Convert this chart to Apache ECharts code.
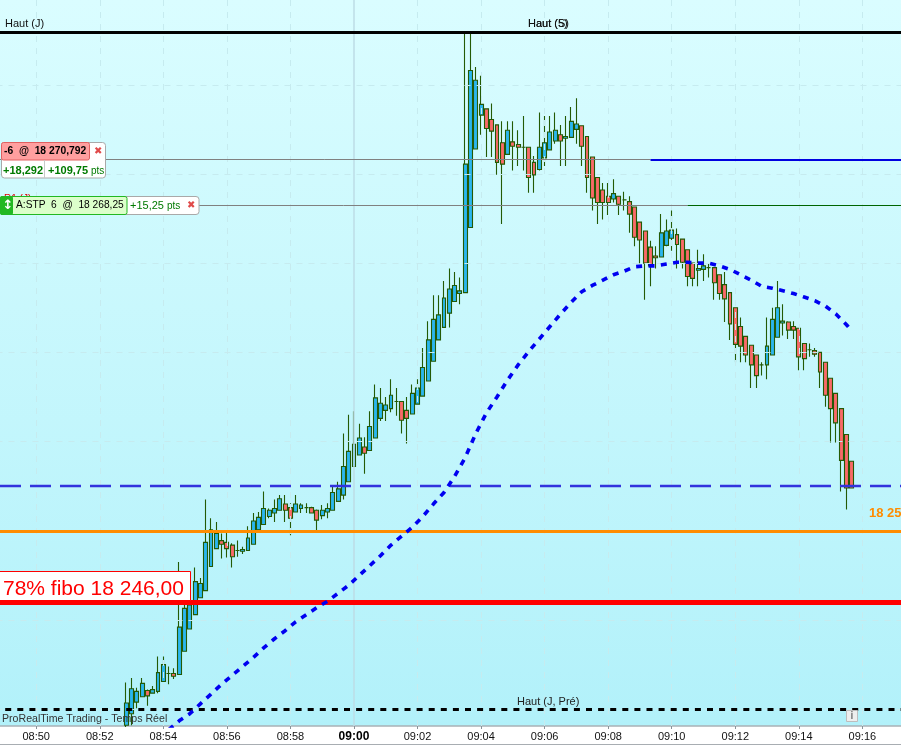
<!DOCTYPE html>
<html><head><meta charset="utf-8">
<style>html,body{margin:0;padding:0;background:#fff;overflow:hidden}#c{width:901px;height:745px}</style>
<script src="https://cdn.jsdelivr.net/npm/echarts@6/dist/echarts.min.js"></script>
</head><body><div id="c"></div>
<script>
const tickLabels = ['08:50','08:52','08:54','08:56','08:58','09:00','09:02','09:04','09:06','09:08','09:10','09:12','09:14','09:16'];
const firstBarTime = '08:52:50';
const opens = [18239.1,18239.75,18240.4,18240.7,18241.05,18240.9,18241,18241.55,18242,18242,
18241.95,18243.25,18244.5,18245.3,18246.25,18246.65,18248,18249,18249.45,18249.35,
18249.2,18248.9,18248.85,18248.9,18249.25,18250.05,18250.35,18250.8,18251,18251.15,
18251.5,18251.3,18251.05,18251.25,18251.3,18251.3,18251.15,18250.85,18251.05,18251.15,
18251.65,18252,18252.75,18253.6,18254.25,18254.7,18254.5,18255.2,18256.3,18256.75,
18256.85,18257.25,18257.25,18256.75,18256.55,18257.1,18257.55,18258.4,18259.5,18260.7,
18261.4,18262.2,18262.85,18263.3,18263.35,18267,18271.4,18273.3,18273.65,18273.05,
18272.75,18271.75,18271.1,18271.8,18271.65,18271.5,18271.5,18270.65,18270.25,18270.9,
18271.35,18271.85,18272.2,18272,18272.05,18272.5,18272.7,18272.1,18270.95,18269.8,
18269.1,18268.75,18268.6,18268.75,18268.55,18268.45,18268.15,18267.3,18266.8,18265.9,
18265.4,18265.35,18266,18266.4,18266.6,18266.35,18265.75,18265,18264.6,18264.65,
18264.75,18264.75,18264.35,18263.8,18263.35,18262.5,18261.45,18260.9,18260.4,18259.85,
18259.3,18259.3,18259.85,18260.85,18261.65,18261.7,18261.45,18261.35,18260.5,18260.15,
18260.1,18260,18259.45,18258.55,18257.7,18256.85,18255.4,18253.9];
const closes = [18240.35,18241.15,18241,18241.45,18240.75,18241.1,18242.05,18242.5,18242,18241.85,
18244.6,18245.65,18245.85,18247.15,18247.05,18249.35,18250.05,18249.85,18249.25,18249,
18248.55,18248.9,18248.95,18249.6,18250.55,18250.75,18251.25,18251.15,18251.25,18251.8,
18251.15,18250.7,18251.5,18251.45,18251.3,18251,18250.6,18251.15,18251.25,18252.15,
18252.35,18253.6,18254.45,18254.85,18255.2,18254.35,18255.85,18257.45,18257.15,18257.05,
18257.6,18257.25,18256.2,18256.3,18257.7,18258,18259.15,18260.7,18261.85,18262.1,
18263.05,18263.55,18263.75,18263.45,18270.55,18275.8,18275.25,18273.9,18272.55,18272.4,
18270.65,18270.55,18272.45,18271.55,18271.5,18271.5,18269.8,18269.95,18271.5,18271.75,
18272.35,18272.45,18271.85,18272.1,18272.95,18272.8,18271.55,18269.8,18268.65,18268.4,
18268.4,18268.4,18268.9,18268.3,18268.55,18267.75,18266.45,18266.3,18265,18264.85,
18265.3,18266.7,18266.8,18266.85,18266.05,18265.05,18264.25,18264.15,18264.7,18264.85,
18264.75,18263.9,18263.3,18263,18261.6,18260.45,18260.35,18259.85,18259.3,18258.7,
18259.3,18260.35,18261.85,18262.5,18261.75,18261.25,18261.25,18259.75,18259.65,18260.15,
18259.9,18258.9,18257.6,18256.85,18256.05,18253.95,18252.4,18252.4];
const lows = [18239,18239.1,18240.05,18240.7,18240.2,18240.9,18240.9,18241.55,18241.4,18241.7,
18241.95,18243.25,18244.5,18245.3,18246.25,18246.65,18248,18249,18248.45,18248.5,
18247.95,18248.55,18248.7,18248.9,18249.25,18250.05,18250.35,18250.7,18250.5,18251.15,
18250.5,18249.75,18251.05,18251,18251,18251,18250.05,18250.65,18250.7,18251.15,
18251.65,18251.75,18252.75,18253.6,18254.25,18253.2,18254.5,18255.2,18256.15,18256.15,
18256.65,18256.45,18255.45,18254.9,18256.55,18257.1,18257.55,18258.4,18259.5,18260.7,
18261.4,18261.4,18262.85,18262.7,18263.35,18267,18271.4,18272.2,18270.95,18270.95,
18269.95,18267.2,18271.1,18270.2,18270.45,18270.2,18268.95,18268.95,18270.2,18270.45,
18271.35,18271.7,18270.45,18270.45,18272.05,18271.7,18270.45,18268.95,18267.95,18267.2,
18267.45,18267.7,18268.4,18267.7,18267.95,18266.7,18265.95,18265,18262.95,18263.7,
18264.7,18265.35,18265.95,18265.7,18264.7,18264.7,18263.7,18263.7,18263.7,18264,
18264.2,18262.95,18262.95,18261.7,18260.7,18259.45,18259.45,18259.45,18258,18258,
18258.7,18258.5,18259.85,18260.85,18260.95,18260.75,18260.75,18259,18259,18259.75,
18259.75,18258,18256.95,18254.95,18254.95,18252.2,18251.2,18252.4];
const highs = [18241.5,18241.75,18241.2,18241.75,18241.1,18241.3,18242.95,18242.95,18242.4,18242.3,
18248.25,18246.1,18246.4,18247.95,18247.35,18251.75,18250.7,18250.5,18249.85,18249.9,
18249.3,18249.45,18249.1,18250.25,18251,18251.05,18252.2,18251.25,18251.75,18252,
18252,18251.55,18252,18251.55,18251.55,18251.35,18251.2,18251.45,18251.55,18252.55,
18252.75,18255.45,18256.5,18256.7,18256,18255.25,18256.7,18258.2,18258,18257.5,
18258.5,18258,18257.25,18257.5,18258.2,18258.5,18260.25,18261.75,18263.2,18263.2,
18264,18264.7,18264.5,18264.2,18278,18278,18276,18275.5,18273.65,18273.95,
18272.75,18272.95,18272.95,18272.95,18272.45,18273.25,18271.5,18271,18273.45,18273.25,
18273.25,18273.45,18272.75,18273.25,18273.75,18274.25,18272.7,18272.1,18270.95,18269.8,
18269.5,18269.5,18269.7,18268.75,18269,18268.75,18268.15,18267.3,18266.8,18266.25,
18265.95,18267.75,18267.45,18267.95,18266.95,18266.35,18265.75,18265,18265.75,18265.5,
18265,18264.75,18264.35,18264.5,18263.35,18262.5,18261.95,18260.9,18260.4,18259.85,
18259.45,18261.95,18262.5,18264,18262.7,18261.75,18261.75,18261.35,18260.5,18260.5,
18260.25,18260,18259.45,18258.55,18257.7,18256.85,18255.4,18253.9];
const maBarIndex = [8,10,12,14,16,18,20,22,24,26,28,30,32,34,36,38,40,42,44,46,48,50,52,54,56,58,60,62,64,66,68,70,72,74,76,78,80,82,84,86,88,90,92,94,96,98,100,102,104,106,108,110,112,114,116,118,120,122,124,126,128,130,132,134,136,137];
const maValues = [18238.85,18239.35,18239.75,18240.3,18240.85,18241.4,18241.9,18242.4,18242.9,18243.45,18243.95,18244.4,18244.9,18245.3,18245.7,18246.05,18246.5,18246.95,18247.5,18248.05,18248.6,18249.2,18249.7,18250.2,18250.8,18251.5,18252.15,18253.05,18254.1,18255.45,18256.6,18257.5,18258.45,18259.3,18260.05,18260.75,18261.45,18262.15,18262.8,18263.4,18263.75,18264.05,18264.35,18264.55,18264.8,18264.85,18264.85,18264.95,18265.05,18265.05,18265,18265,18264.85,18264.65,18264.35,18264.05,18263.7,18263.6,18263.45,18263.3,18263.1,18262.9,18262.6,18262.15,18261.55,18261.2];
const gridLevels = [18240,18245,18250,18255,18260,18265,18270,18275];
const highOfDay = 18277.95, prevDayHigh = 18240, pivotLevel = 18250, fiboLevel = 18246, dashedLevel = 18252.5;
const orderPrice = 18270.8, stopPrice = 18268.25;

const pad = n => String(n).padStart(2,'0');
const categories = [];
for (let s = 8*3600+48*60+50, i = 0; i < 172; i++, s += 10) {
  categories.push(pad(Math.floor(s/3600))+':'+pad(Math.floor(s/60)%60)+':'+pad(s%60));
}
const firstIdx = categories.indexOf(firstBarTime);
const candleData = categories.map((c,i)=>{
  const k = i-firstIdx;
  return (k>=0 && k<opens.length) ? [opens[k],closes[k],lows[k],highs[k]] : ['-','-','-','-'];
});
const maData = categories.map(()=>null);
maBarIndex.forEach((b,i)=>{maData[firstIdx+b]=maValues[i];});
const tickSet = new Set(tickLabels.map(t=>t+':00'));
const isTick = (i,v)=>tickSet.has(v);
const lastCat = categories[categories.length-1];
const noSym = {symbol:['none','none'],silent:true,animation:false,label:{show:false},emphasis:{disabled:true}};
const hLine = (v,color,width,type,extra)=>({yAxis:v,lineStyle:Object.assign({color,width,type,opacity:1},extra||{})});
const segment = (a,b,v,color,width)=>[{coord:[a,v],lineStyle:{color,width,type:'solid',opacity:1}},{coord:[b,v]}];

const font = 'Liberation Sans, Arial, sans-serif';
const T = (x,y,text,f,fill,extra,z)=>({type:'text',z:z||100,silent:true,style:Object.assign({x,y,text,font:f+' '+font,fill,verticalAlign:'middle',align:'left'},extra||{})});
const R = (x,y,w,h,fill,stroke,r,z)=>({type:'rect',z:z||90,silent:true,shape:{x,y,width:w,height:h,r:r||0},style:{fill,stroke:stroke||null,lineWidth:stroke?1:0}});

const graphics = [
  R(0,744,901,1,'#a8adb2'),
  T(5,24,'Haut (J)','11px','#111'),
  T(528,24,'Haut (S)','11px','#111'),
  T(528,24,'Haut (5)','11px','#111'),
  T(517,702,'Haut (J, Pré)','11px','#222'),
  T(869,513,'18 25','bold 13px','#FF8C00'),
  T(2,719,'ProRealTime Trading - Temps Réel','10.6px','#333'),
  T(4,199.5,'R1 (J)','10px','#e00000',{},80),
  // fibo tag
  R(-2,571.5,192.5,29,'#ffffff','#ff0000',0,95),
  T(3,589.5,'78% fibo 18 246,00','21px','#ff0000',{}),
  // order panel 1
  R(1.5,142.5,104,35.5,'#ffffff','#a9a9a9',3,91),
  R(1.5,142.5,88,17.5,'#FF9F9F','#E06060',2,92),
  T(4,151.5,'-6  @  18 270,792','bold 10.3px','#000'),
  T(94,151,'✖','bold 10px','#E04A4A',{font:'bold 10px DejaVu Sans'}),
  R(44,160,1,18,'#c8c8c8',null,0,92),
  T(3,170.5,'+18,292','bold 11px','#007A00'),
  T(48,170.5,'+109,75','bold 11px','#007A00'),
  T(91,171,'pts','10px','#007A00'),
  // order panel 2
  R(0.5,196.5,198.5,18,'#ffffff','#a9a9a9',3,91),
  R(0.5,196.5,126.5,18,'#DCFFCB','#22B822',2,92),
  R(0,196,13,19,'#22B822',null,2,93),
  T(2.5,205.5,'↕','bold 13px','#fff',{font:'bold 13px DejaVu Sans'}),
  T(16,205.5,'A:STP  6  @  18 268,25','10.2px','#000'),
  T(130,205.5,'+15,25','11px','#007A00'),
  T(167,206,'pts','10px','#007A00'),
  T(187,205.5,'✖','bold 10px','#E04A4A',{font:'bold 10px DejaVu Sans'}),
  // info icon
  R(846.5,710.5,11,11,'#eeeeee','#bdbdbd',0,91),
  T(852,716,'i','bold 10px','#777',{align:'center'})
];

const chart = echarts.init(document.getElementById('c'),null,{renderer:'canvas'});
chart.setOption({
  animation:false,
  backgroundColor:'#ffffff',
  textStyle:{fontFamily:font},
  grid:{left:-3.52,top:0,width:172*5.296,height:726,show:true,borderWidth:0,containLabel:false,outerBoundsMode:'none',
    backgroundColor:new echarts.graphic.LinearGradient(0,0,0,1,[{offset:0,color:'#DAFDFF'},{offset:1,color:'#B2F1FA'}])},
  xAxis:{type:'category',data:categories,boundaryGap:true,
    axisLine:{show:true,lineStyle:{color:'#a8b0b6',width:1.5}},
    axisTick:{show:true,alignWithLabel:true,interval:isTick,length:3,lineStyle:{color:'#8a9298'}},
    splitLine:{show:false},
    axisLabel:{show:true,interval:isTick,margin:5,fontSize:11,color:'#111',fontFamily:font,hideOverlap:false,
      formatter:v=>v==='09:00:00'?'{b|09:00}':v.slice(0,5),
      rich:{b:{fontWeight:'bold',fontSize:12,color:'#000',fontFamily:font}}}},
  yAxis:{type:'value',min:18239.06,max:18279.75,show:false,scale:true,splitLine:{show:false}},
  tooltip:{show:false},
  graphic:{elements:graphics},
  series:[
    {name:'grid',type:'line',z:1,data:[],markLine:Object.assign({},noSym,{data:[
      ...gridLevels.map(v=>hLine(v,'#C6EBEF',1,[6,6])),
      ...tickLabels.map(t=>({xAxis:t+':00',lineStyle:t==='09:00'?{color:'#BDDDE6',width:1.5,type:'solid',opacity:1}:{color:'#C6EBEF',width:1,type:[6,6],opacity:1}}))
    ]})},
    {name:'price',type:'candlestick',z:3,data:candleData,barWidth:4.4,clip:true,silent:true,
      itemStyle:{color:'#2BB6EE',color0:'#F96A68',borderColor:'#245A05',borderColor0:'#245A05',borderColorDoji:'#245A05',borderWidth:1.1}},
    {name:'levels',type:'line',z:4,data:[],markLine:Object.assign({},noSym,{data:[
      hLine(highOfDay,'#000',3,'solid'),
      hLine(pivotLevel,'#FF8C00',3,'solid'),
      hLine(fiboLevel,'#FF0000',5,'solid'),
      hLine(dashedLevel,'#3333DD',2.3,[21,9],{dashOffset:26.48}),
      hLine(prevDayHigh,'#000',3,[6,6.1],{dashOffset:3.38}),
      segment(categories[0],categories[99+firstIdx],orderPrice,'#808080',1),
      segment(categories[99+firstIdx],lastCat,orderPrice,'#0000E0',2),
      segment(categories[0],categories[106+firstIdx],stopPrice,'#808080',1),
      segment(categories[106+firstIdx],lastCat,stopPrice,'#006400',1)
    ]})},
    {name:'ma',type:'line',z:5,data:maData,connectNulls:true,showSymbol:false,symbol:'none',silent:true,clip:true,
      lineStyle:{color:'#0000F0',width:3.6,type:[6,6.4]}}
  ]
});
</script></body></html>
